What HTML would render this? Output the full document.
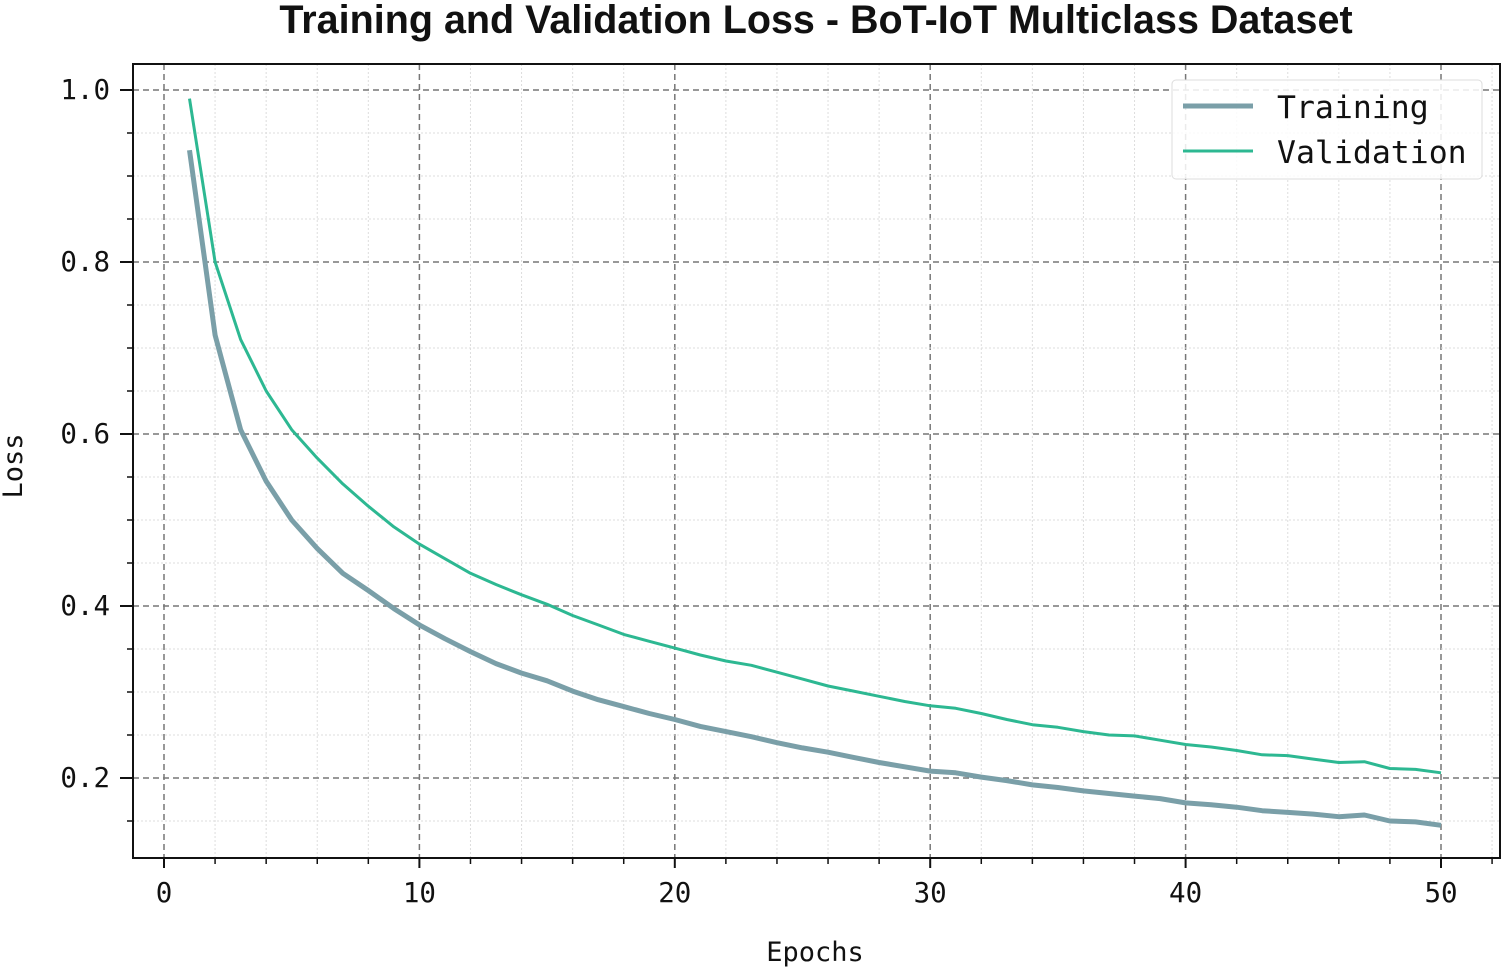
<!DOCTYPE html>
<html><head><meta charset="utf-8"><style>
html,body{margin:0;padding:0;background:#fff;}
svg text{font-family:"DejaVu Sans Mono","Liberation Mono",monospace;fill:#111;}
</style></head><body>
<svg id="s" width="1505" height="969" xmlns="http://www.w3.org/2000/svg">
<rect width="1505" height="969" fill="#fff"/>
<g id="grid"></g>
<g id="lines"></g>
<rect x="133" y="64" width="1367" height="794" fill="none" stroke="#111" stroke-width="2"/>
<g id="ticks"></g>
<text x="816" y="33" text-anchor="middle" style="font-family:'Liberation Sans',sans-serif;font-weight:bold;font-size:39.5px">Training and Validation Loss - BoT-IoT Multiclass Dataset</text>
<text x="815" y="961" text-anchor="middle" font-size="27">Epochs</text>
<text transform="translate(22,466) rotate(-90)" text-anchor="middle" font-size="27">Loss</text>
<rect x="1172" y="80" width="310" height="99" rx="4" fill="#fff" fill-opacity="0.85" stroke="#ddd"/>
<line x1="1183" y1="106" x2="1253" y2="106" stroke="#7a9fa8" stroke-width="5"/>
<line x1="1183" y1="151" x2="1253" y2="151" stroke="#2db892" stroke-width="3"/>
<text x="1277" y="118" font-size="31.5">Training</text>
<text x="1277" y="163" font-size="31.5">Validation</text>
</svg>
<script>
var X=function(e){return 164+25.54*e},Y=function(v){return 90+(1-v)*860};
var g=document.getElementById('grid'),t=document.getElementById('ticks'),l=document.getElementById('lines'),h='',tk='';
for(var e=-2;e<=52;e+=2){var x=X(e);if(x<134||x>1499)continue;
 if(e%10==0){h+='<line x1="'+x+'" y1="64" x2="'+x+'" y2="858" stroke="#777" stroke-width="1.5" stroke-dasharray="6,4"/>';
  tk+='<line x1="'+x+'" y1="858" x2="'+x+'" y2="868" stroke="#111" stroke-width="2"/><text x="'+x+'" y="902" text-anchor="middle" font-size="27.5">'+e+'</text>';}
 else{h+='<line x1="'+x+'" y1="64" x2="'+x+'" y2="858" stroke="#ddd" stroke-width="1" stroke-dasharray="2,2"/>';
  tk+='<line x1="'+x+'" y1="858" x2="'+x+'" y2="864" stroke="#111" stroke-width="1.5"/>';}}
for(var i=2;i<=21;i++){var v=i*0.05,y=Y(v);if(y<65||y>857)continue;
 if(i%4==0){h+='<line x1="133" y1="'+y+'" x2="1500" y2="'+y+'" stroke="#777" stroke-width="1.5" stroke-dasharray="6,4"/>';
  tk+='<line x1="120" y1="'+y+'" x2="133" y2="'+y+'" stroke="#111" stroke-width="2"/><text x="110" y="'+(y+9)+'" text-anchor="end" font-size="27.5">'+v.toFixed(1)+'</text>';}
 else{h+='<line x1="133" y1="'+y+'" x2="1500" y2="'+y+'" stroke="#ddd" stroke-width="1" stroke-dasharray="2,2"/>';
  tk+='<line x1="127" y1="'+y+'" x2="133" y2="'+y+'" stroke="#111" stroke-width="1.5"/>';}}
g.innerHTML=h;t.innerHTML=tk;
var tr=[0.93,0.715,0.605,0.545,0.5,0.467,0.438,0.418,0.397,0.378,0.362,0.347,0.333,0.322,0.313,0.301,0.291,0.283,0.275,0.268,0.26,0.254,0.248,0.241,0.235,0.23,0.224,0.218,0.213,0.208,0.206,0.201,0.197,0.192,0.189,0.185,0.182,0.179,0.176,0.171,0.169,0.166,0.162,0.16,0.158,0.155,0.157,0.15,0.149,0.145];
var va=[0.99,0.8,0.71,0.65,0.605,0.572,0.542,0.516,0.492,0.472,0.455,0.438,0.425,0.413,0.402,0.389,0.378,0.367,0.359,0.351,0.343,0.336,0.331,0.323,0.315,0.307,0.301,0.295,0.289,0.284,0.281,0.275,0.268,0.262,0.259,0.254,0.25,0.249,0.244,0.239,0.236,0.232,0.227,0.226,0.222,0.218,0.219,0.211,0.21,0.206];
function pts(a){return a.map(function(v,i){return X(i+1).toFixed(1)+','+Y(v).toFixed(1)}).join(' ')}
l.innerHTML='<polyline points="'+pts(tr)+'" fill="none" stroke="#7a9fa8" stroke-width="5" stroke-linejoin="round"/><polyline points="'+pts(va)+'" fill="none" stroke="#2db892" stroke-width="3" stroke-linejoin="round"/>';
</script>
</body></html>
